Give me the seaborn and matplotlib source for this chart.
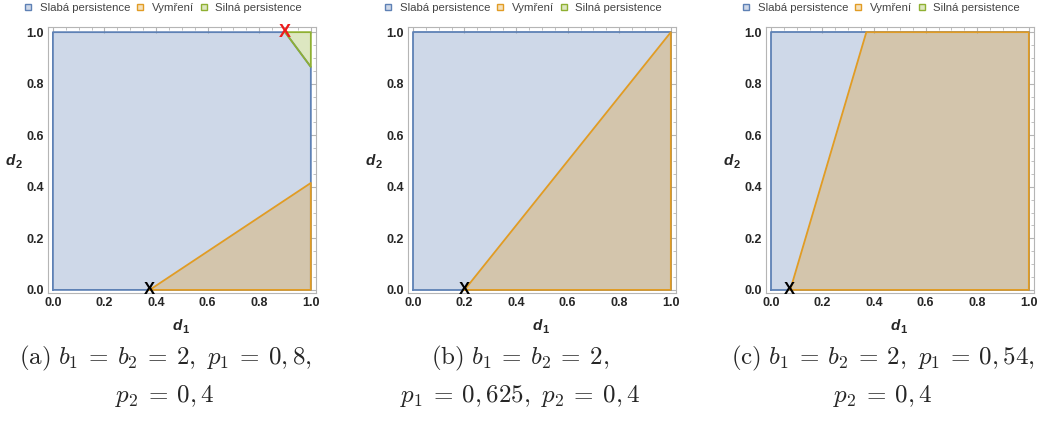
import matplotlib
matplotlib.use("Agg")
import matplotlib.pyplot as plt
from matplotlib.patches import Patch
from matplotlib.colors import to_rgb
from matplotlib.ticker import MultipleLocator
import seaborn as sns
import pandas as pd

# region vertices (d1, d2)
weak_a_x = [0, 1, 1, 0.9, 0]
weak_a_y = [0, 0, 0.865, 1, 1]
ext_a_x = [0.375, 1, 1]
ext_a_y = [0, 0, 0.415]
strong_a_x = [0.9, 1, 1]
strong_a_y = [1, 1, 0.865]

weak_b_x = [0, 1, 1, 0]
weak_b_y = [0, 0, 1, 1]
ext_b_x = [0.2, 1, 1]
ext_b_y = [0, 0, 1]

weak_c_x = [0, 1, 1, 0]
weak_c_y = [0, 0, 1, 1]
ext_c_x = [0.075, 1, 1, 0.37]
ext_c_y = [0, 0, 1, 1]

# equilibrium markers
black_x = [0.375, 0.2, 0.07]
red_a = (0.9, 1.0)

legend_labels = ["Slabá persistence", "Vymření", "Silná persistence"]
EQ = r"\:=\:"
captions = [
    (rf"$\mathrm{{(a)}}\ b_1{EQ}b_2{EQ}2,\ p_1{EQ}0,8,$", rf"$p_2{EQ}0,4$"),
    (rf"$\mathrm{{(b)}}\ b_1{EQ}b_2{EQ}2,$", rf"$p_1{EQ}0,625,\ p_2{EQ}0,4$"),
    (rf"$\mathrm{{(c)}}\ b_1{EQ}b_2{EQ}2,\ p_1{EQ}0,54,$", rf"$p_2{EQ}0,4$"),
]

BLUE = "#5e81b5"
ORANGE = "#e19c24"
GREEN = "#8fb032"

sns.set_style("white")
plt.rcParams["font.family"] = ["Liberation Sans", "DejaVu Sans"]
plt.rcParams["mathtext.fontset"] = "cm"

fig = plt.figure(figsize=(10.37, 4.24), dpi=100)
W, H = 1037, 424
lefts = [48, 408, 766]
panels = [
    [(weak_a_x, weak_a_y, BLUE), (ext_a_x, ext_a_y, ORANGE), (strong_a_x, strong_a_y, GREEN)],
    [(weak_b_x, weak_b_y, BLUE), (ext_b_x, ext_b_y, ORANGE)],
    [(weak_c_x, weak_c_y, BLUE), (ext_c_x, ext_c_y, ORANGE)],
]


def sublabel(x, y, sub):
    # bold italic d with a small bold subscript, like the Mathematica frame labels
    fig.text(x / W, 1 - y / H, "d", ha="right", va="baseline", fontsize=11,
             fontweight="bold", fontstyle="italic")
    fig.text((x + 0.5) / W, 1 - (y + 3) / H, sub, ha="left", va="baseline",
             fontsize=8, fontweight="bold")


for i, left in enumerate(lefts):
    ax = fig.add_axes([left / W, (H - 293) / H, 268 / W, 266 / H])
    for xs, ys, col in panels[i]:
        ax.fill(xs, ys, color=col, alpha=0.3, lw=0)
        df = pd.DataFrame({"x": xs + xs[:1], "y": ys + ys[:1]})
        sns.lineplot(data=df, x="x", y="y", sort=False, color=col, lw=1.3,
                     ax=ax, estimator=None)
    ax.text(black_x[i], 0.0, "X", color="black", fontsize=12, fontweight="bold",
            ha="center", va="center", zorder=5)
    if i == 0:
        ax.text(red_a[0], red_a[1], "X", color="#ee1c1c", fontsize=13,
                fontweight="bold", ha="center", va="center", zorder=5)

    ax.set_xlim(-0.019, 1.02)
    ax.set_ylim(-0.012, 1.02)
    ax.xaxis.set_major_locator(MultipleLocator(0.2))
    ax.yaxis.set_major_locator(MultipleLocator(0.2))
    ax.xaxis.set_minor_locator(MultipleLocator(0.05))
    ax.yaxis.set_minor_locator(MultipleLocator(0.05))
    ax.tick_params(which="both", direction="in", top=True, right=True,
                   color="#b5b5b5", labelsize=9, pad=3)
    ax.tick_params(which="major", length=4, width=0.8)
    ax.tick_params(which="minor", length=2, width=0.6)
    ax.set_xticklabels([f"{v:.1f}" for v in ax.get_xticks()])
    ax.set_yticklabels([f"{v:.1f}" for v in ax.get_yticks()])
    for lab in ax.get_xticklabels() + ax.get_yticklabels():
        lab.set_fontweight("bold")
    for s in ax.spines.values():
        s.set_color("#b5b5b5")
        s.set_linewidth(0.8)
    ax.set_xlabel("")
    ax.set_ylabel("")
    ax.set_facecolor("white")

    sublabel(left + 134, 330, "1")
    sublabel(left - 33, 165, "2")

    handles = [Patch(facecolor=(*to_rgb(c), 0.3), edgecolor=c, lw=1)
               for c in (BLUE, ORANGE, GREEN)]
    leg = ax.legend(handles, legend_labels, loc="center",
                    bbox_to_anchor=(0.431, 1 + 19 / 266), ncol=3, frameon=False,
                    fontsize=8.2, handlelength=0.55, handleheight=0.55,
                    handletextpad=0.75, columnspacing=0.6, borderaxespad=0)
    for t in leg.get_texts():
        t.set_color("#444444")

    l1, l2 = captions[i]
    cx = (left + 117) / W if i != 1 else (left + 112) / W
    fig.text(cx, 1 - 358 / H, l1, ha="center", va="center", fontsize=18)
    fig.text(cx, 1 - 396 / H, l2, ha="center", va="center", fontsize=18)

fig.savefig("out.png", dpi=100)
